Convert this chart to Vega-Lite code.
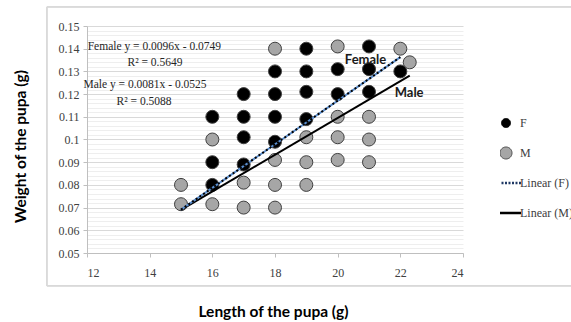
{
  "$schema": "https://vega.github.io/schema/vega-lite/v6.json",
  "width": 376,
  "height": 227,
  "autosize": {"type": "none"},
  "padding": {"left": 87, "top": 26, "right": 108, "bottom": 69},
  "background": "white",
  "config": {"view": {"stroke": null}, "font": "Liberation Serif"},
  "datasets": {
    "points": [
      {"length": 16, "weight": 0.110, "sex": "F"},
      {"length": 16, "weight": 0.090, "sex": "F"},
      {"length": 16, "weight": 0.080, "sex": "F"},
      {"length": 17, "weight": 0.120, "sex": "F"},
      {"length": 17, "weight": 0.110, "sex": "F"},
      {"length": 17, "weight": 0.101, "sex": "F"},
      {"length": 17, "weight": 0.089, "sex": "F"},
      {"length": 18, "weight": 0.130, "sex": "F"},
      {"length": 18, "weight": 0.120, "sex": "F"},
      {"length": 18, "weight": 0.110, "sex": "F"},
      {"length": 19, "weight": 0.140, "sex": "F"},
      {"length": 19, "weight": 0.130, "sex": "F"},
      {"length": 19, "weight": 0.121, "sex": "F"},
      {"length": 19, "weight": 0.109, "sex": "F"},
      {"length": 20, "weight": 0.131, "sex": "F"},
      {"length": 20, "weight": 0.120, "sex": "F"},
      {"length": 21, "weight": 0.141, "sex": "F"},
      {"length": 21, "weight": 0.131, "sex": "F"},
      {"length": 21, "weight": 0.121, "sex": "F"},
      {"length": 22, "weight": 0.130, "sex": "F"},
      {"length": 15, "weight": 0.080, "sex": "M"},
      {"length": 15, "weight": 0.0715, "sex": "M"},
      {"length": 16, "weight": 0.100, "sex": "M"},
      {"length": 16, "weight": 0.0715, "sex": "M"},
      {"length": 17, "weight": 0.081, "sex": "M"},
      {"length": 17, "weight": 0.070, "sex": "M"},
      {"length": 18, "weight": 0.140, "sex": "M"},
      {"length": 18, "weight": 0.091, "sex": "M"},
      {"length": 18, "weight": 0.080, "sex": "M"},
      {"length": 18, "weight": 0.070, "sex": "M"},
      {"length": 19, "weight": 0.101, "sex": "M"},
      {"length": 19, "weight": 0.090, "sex": "M"},
      {"length": 19, "weight": 0.080, "sex": "M"},
      {"length": 20, "weight": 0.141, "sex": "M"},
      {"length": 20, "weight": 0.110, "sex": "M"},
      {"length": 20, "weight": 0.101, "sex": "M"},
      {"length": 20, "weight": 0.091, "sex": "M"},
      {"length": 21, "weight": 0.110, "sex": "M"},
      {"length": 21, "weight": 0.100, "sex": "M"},
      {"length": 21, "weight": 0.090, "sex": "M"},
      {"length": 22, "weight": 0.140, "sex": "M"},
      {"length": 22.3, "weight": 0.134, "sex": "M"},
      {"length": 18, "weight": 0.099, "sex": "F"}
    ],
    "trend": [
      {"length": 15, "weight": 0.0691, "series": "Linear (F)"},
      {"length": 22, "weight": 0.1363, "series": "Linear (F)"},
      {"length": 15, "weight": 0.0690, "series": "Linear (M)"},
      {"length": 22.3, "weight": 0.1281, "series": "Linear (M)"}
    ],
    "notes": [
      {"length": 14.15, "weight": 0.1407, "label": "Female y = 0.0096x - 0.0749", "kind": "eq"},
      {"length": 14.17, "weight": 0.1337, "label": "R² = 0.5649", "kind": "eq"},
      {"length": 13.85, "weight": 0.1240, "label": "Male y = 0.0081x - 0.0525", "kind": "eq"},
      {"length": 13.82, "weight": 0.1165, "label": "R² = 0.5088", "kind": "eq"},
      {"length": 20.89, "weight": 0.1350, "label": "Female", "kind": "tag"},
      {"length": 22.28, "weight": 0.1205, "label": "Male", "kind": "tag"}
    ]
  },
  "resolve": {"axis": {"x": "independent", "y": "independent"}},
  "layer": [
    {
      "data": {"name": "points"},
      "mark": {"type": "point", "filled": true, "size": 169, "stroke": "#404040", "strokeWidth": 1, "opacity": 1},
      "encoding": {
        "x": {"field": "length", "type": "quantitative", "scale": {"domain": [12, 24], "zero": false, "nice": false},
          "axis": {"values": [12,14,16,18,20,22,24], "grid": false, "domainColor": "#bfbfbf", "tickColor": "#bfbfbf", "tickSize": 4,
            "labelPadding": 10, "labelFont": "Liberation Serif", "labelFontSize": 12, "labelColor": "#404040",
            "title": "Length of the pupa (g)", "titleFont": "Lato", "titleFontSize": 15.5, "titleFontWeight": "bold", "titleColor": "#000000",
            "titleX": 186, "titleY": 58, "titleAlign": "center", "titleBaseline": "middle"}},
        "y": {"field": "weight", "type": "quantitative", "scale": {"domain": [0.05, 0.15], "zero": false, "nice": false},
          "axis": {"values": [0.05,0.06,0.07,0.08,0.09,0.1,0.11,0.12,0.13,0.14,0.15], "format": ".2~f", "grid": true, "gridColor": "#d9d9d9",
            "domainColor": "#bfbfbf", "tickColor": "#bfbfbf", "tickSize": 4, "labelPadding": 4,
            "labelFont": "Liberation Serif", "labelFontSize": 12, "labelColor": "#404040",
            "title": "Weight of the pupa (g)", "titleFont": "Lato", "titleFontSize": 15.5, "titleFontWeight": "bold", "titleColor": "#000000",
            "titleX": -67, "titleY": 120, "titleAngle": -90, "titleAlign": "center", "titleBaseline": "middle"}},
        "color": {"field": "sex", "type": "nominal",
          "scale": {"domain": ["F", "M", "Linear (F)", "Linear (M)"], "range": ["#000000", "#a6a6a6", "#2f5597", "#000000"]},
          "legend": {"title": null, "orient": "none", "legendX": 413, "legendY": 82, "padding": 0, "rowPadding": 0, "clipHeight": 30,
            "symbolSize": 900, "labelFont": "Liberation Serif", "labelFontSize": 12, "labelColor": "#404040", "labelOffset": 8,
            "encoding": {"symbols": {
              "shape": {"value": {"expr": "(datum.value === 'F' || datum.value === 'M') ? 'circle' : 'stroke'"}},
              "size": {"value": {"expr": "datum.value === 'F' ? 81 : datum.value === 'M' ? 144 : 900"}},
              "fill": {"value": {"expr": "datum.value === 'F' ? '#000000' : datum.value === 'M' ? '#a6a6a6' : 'transparent'"}},
              "stroke": {"value": {"expr": "datum.value === 'M' ? '#404040' : datum.value === 'Linear (F)' ? '#1f3864' : '#000000'"}},
              "strokeDash": {"value": {"expr": "datum.value === 'Linear (F)' ? [2, 1.5] : [1, 0]"}},
              "strokeWidth": {"value": {"expr": "(datum.value === 'F' || datum.value === 'M') ? 1 : 2.5"}}
            }}}
        }
      }
    },
    {
      "data": {"name": "trend"},
      "mark": {"type": "rect", "fill": "transparent", "stroke": "#d9d9d9", "strokeWidth": 1, "clip": false},
      "encoding": {
        "x": {"datum": 10.72, "type": "quantitative", "axis": null},
        "x2": {"datum": 28},
        "y": {"datum": 0.0355, "type": "quantitative",
          "axis": {"orient": "right", "values": [0.052,0.054,0.056,0.058,0.062,0.064,0.066,0.068,0.072,0.074,0.076,0.078,0.082,0.084,0.086,0.088,0.092,0.094,0.096,0.098,0.102,0.104,0.106,0.108,0.112,0.114,0.116,0.118,0.122,0.124,0.126,0.128,0.132,0.134,0.136,0.138,0.142,0.144,0.146,0.148],
            "grid": true, "gridColor": "#eeeeee", "gridWidth": 1, "labels": false, "ticks": false, "domain": false, "title": null}},
        "y2": {"datum": 0.1584}
      }
    },
    {
      "data": {"name": "trend"},
      "transform": [{"filter": "datum.series === 'Linear (M)'"}],
      "mark": {"type": "line", "color": "#000000", "strokeWidth": 2},
      "encoding": {
        "x": {"field": "length", "type": "quantitative", "axis": null},
        "y": {"field": "weight", "type": "quantitative", "axis": null}
      }
    },
    {
      "data": {"name": "trend"},
      "transform": [{"filter": "datum.series === 'Linear (F)'"}],
      "mark": {"type": "line", "color": "#5b8fd0", "strokeWidth": 2},
      "encoding": {
        "x": {"field": "length", "type": "quantitative", "axis": null},
        "y": {"field": "weight", "type": "quantitative", "axis": null}
      }
    },
    {
      "data": {"name": "trend"},
      "transform": [{"filter": "datum.series === 'Linear (F)'"}],
      "mark": {"type": "line", "color": "#000000", "strokeWidth": 2, "strokeDash": [2, 2.5]},
      "encoding": {
        "x": {"field": "length", "type": "quantitative", "axis": null},
        "y": {"field": "weight", "type": "quantitative", "axis": null}
      }
    },
    {
      "data": {"name": "notes"},
      "transform": [{"filter": "datum.kind === 'eq'"}],
      "mark": {"type": "text", "font": "Liberation Serif", "fontSize": 11.5, "color": "#262626", "align": "center", "baseline": "middle"},
      "encoding": {
        "x": {"field": "length", "type": "quantitative", "axis": null},
        "y": {"field": "weight", "type": "quantitative", "axis": null},
        "text": {"field": "label"}
      }
    },
    {
      "data": {"name": "notes"},
      "transform": [{"filter": "datum.kind === 'tag'"}],
      "mark": {"type": "text", "font": "Lato", "fontSize": 13, "fontWeight": "bold", "color": "#1a1a1a", "align": "center", "baseline": "middle"},
      "encoding": {
        "x": {"field": "length", "type": "quantitative", "axis": null},
        "y": {"field": "weight", "type": "quantitative", "axis": null},
        "text": {"field": "label"}
      }
    }
  ]
}
